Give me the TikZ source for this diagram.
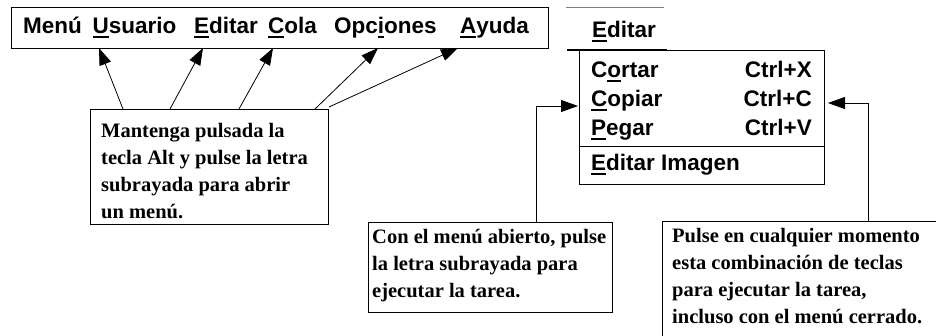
\documentclass[tikz,border=0pt]{standalone}
\usepackage{fontspec}
\setmainfont{Liberation Serif}
\newfontfamily\hvfont{Liberation Sans}
\usetikzlibrary{arrows.meta}
\newcommand\ulet[1]{\setbox0\hbox{#1}\rlap{\rule[-5pt]{\wd0}{1.8pt}}\box0}
\newcommand\lines[1]{\vtop{#1}}
\begin{document}
\begin{tikzpicture}[x=1pt,y=-1pt,
 box/.style={draw, line width=1pt, inner sep=0pt, anchor=north west},
 sans/.style={font=\hvfont\bfseries\fontsize{22.5}{26}\selectfont, inner sep=0pt, anchor=base west},
 serif/.style={font=\bfseries\fontsize{20.5}{27}\selectfont, inner sep=0pt, anchor=base west},
 arr/.style={-{Triangle[length=17pt,width=12pt]}, line width=0.8pt}]
\useasboundingbox (0,0) rectangle (936,335);
\clip (0,0) rectangle (936,335);
% menu bar
\node[box, minimum width=537pt, minimum height=41pt] (bar) at (11,7) {};
\node[sans] (w1) at (23,33) {Menú};
\node[sans] (w2) at (92.5,33) {\ulet{U}suario};
\node[sans] (w3) at (194,33) {\ulet{E}ditar};
\node[sans] (w4) at (268,33) {\ulet{C}ola};
\node[sans] (w5) at (334,33) {Opc\ulet{i}ones};
\node[sans] (w6) at (460,33) {\ulet{A}yuda};
% help box
\node[box, minimum width=238pt, minimum height=115pt] (help) at (90,109) {};
\node[serif] (helptxt) at (101,137) {\lines{\hbox{Mantenga pulsada la}\hbox{tecla Alt y pulse la letra}\hbox{subrayada para abrir}\hbox{un menú.}}};
\coordinate (t1) at (99,48);
\coordinate (t2) at (203,48);
\coordinate (t3) at (273,48);
\coordinate (t4) at (378,48);
\coordinate (t5) at (458,48);
\draw[arr] ([xshift=33pt]help.north west) -- (t1);
\draw[arr] ([xshift=80pt]help.north west) -- (t2);
\draw[arr] ([xshift=149pt]help.north west) -- (t3);
\draw[arr] ([xshift=225pt]help.north west) -- (t4);
\draw[arr] ([yshift=2pt]help.north east) -- (t5);
% Editar menu
\draw[gray, line width=1pt] (566,7) -- (664,7);
\node[sans] (hd) at (592,37) {\ulet{E}ditar};
\draw[line width=2pt] (567,50) -- (667,50);
\node[box, minimum width=245pt, minimum height=134pt] (menu) at (579,50) {};
\draw[line width=1pt] (menu.west |- 0,146) -- (menu.east |- 0,146);
\node[sans] (m1) at (591,77) {C\ulet{o}rtar};
\node[sans] (m2) at (591,106) {\ulet{C}opiar};
\node[sans] (m3) at (591,135) {\ulet{P}egar};
\node[sans] (m4) at (591,170) {\ulet{E}ditar Imagen};
\node[sans, anchor=base east] (k1) at (812,77) {Ctrl+X};
\node[sans, anchor=base east] (k2) at (812,106) {Ctrl+C};
\node[sans, anchor=base east] (k3) at (812,135) {Ctrl+V};
% bottom boxes
\node[box, minimum width=244pt, minimum height=90pt] (con) at (368,222) {};
\node[serif] (context) at (372,243) {\lines{\hbox{Con el menú abierto, pulse}\hbox{la letra subrayada para}\hbox{ejecutar la tarea.}}};
\node[box, minimum width=290pt, minimum height=130pt] (pb) at (662,221) {};
\node[serif] (pbtext) at (672,242) {\lines{\hbox{Pulse en cualquier momento}\hbox{esta combinación de teclas}\hbox{para ejecutar la tarea,}\hbox{incluso con el menú cerrado.}}};
\draw[arr] ([xshift=168pt]con.north west) |- ([xshift=-1pt]menu.west |- 0,106);
\draw[arr] ([xshift=206pt]pb.north west) |- ([xshift=3pt]menu.east |- 0,103);
\end{tikzpicture}
\end{document}
